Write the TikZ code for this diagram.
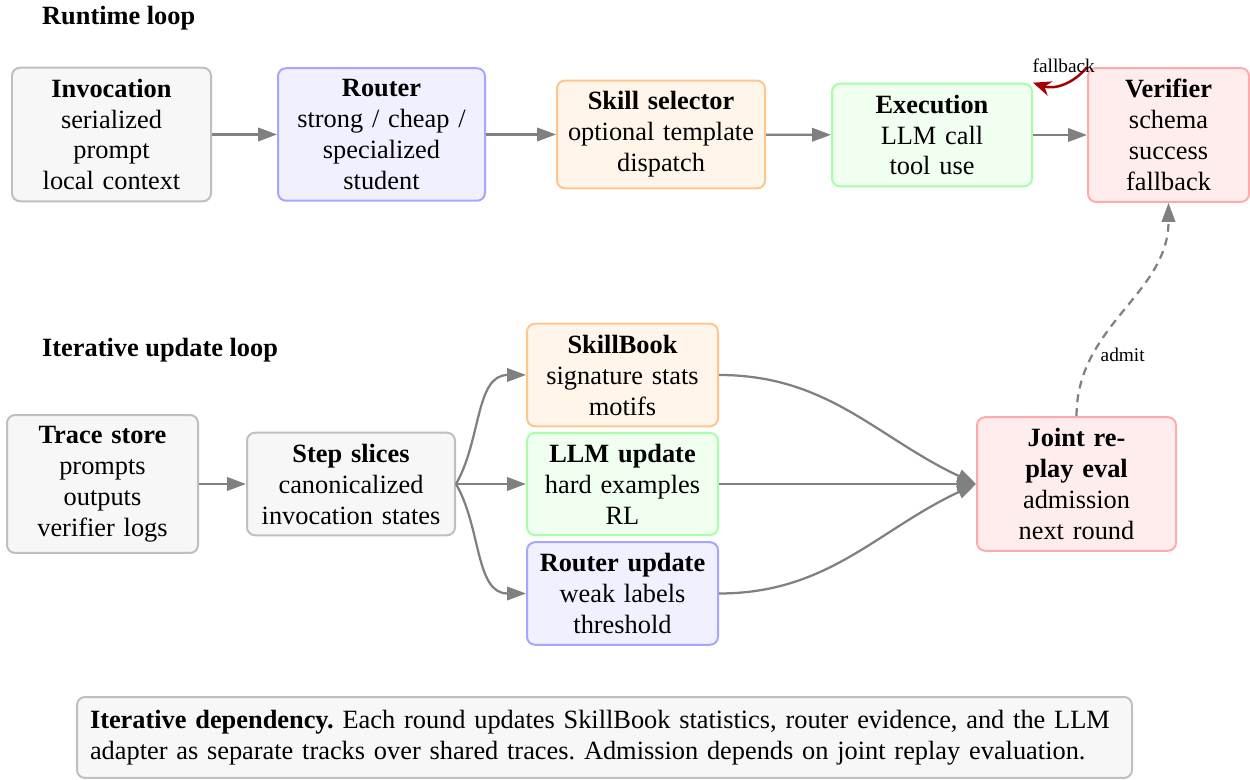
\documentclass[tikz,border=0pt]{standalone}
\usepackage{fontspec}
\setmainfont{Liberation Serif}
\usetikzlibrary{arrows.meta}
\begin{document}
\begin{tikzpicture}[
    box/.style={draw, rounded corners=0.16cm, line width=0.04cm, align=center,
      inner xsep=0.2cm, inner ysep=0.22cm, font=\fontsize{15}{17.64}\selectfont},
    graybox/.style={box, draw=black!25, fill=black!3},
    bluebox/.style={box, draw=blue!35, fill=blue!6},
    orangebox/.style={box, draw=orange!45, fill=orange!8},
    greenbox/.style={box, draw=green!35, fill=green!6},
    redbox/.style={box, draw=red!33, fill=red!7},
    flow/.style={draw=black!50, line width=0.045cm, -{Triangle[length=0.38cm,width=0.27cm]}},
    heading/.style={anchor=west, font=\fontsize{15}{17.64}\selectfont\bfseries},
    small/.style={font=\fontsize{11}{13}\selectfont}
  ]
  \useasboundingbox (0,0) rectangle (25,15.6);

  % Runtime loop
  \node[heading] (rt) at (0.72,15.24) {Runtime loop};
  \node[graybox, text width=3.58cm] (inv) at (2.23,12.91) {\textbf{Invocation}\\serialized\\prompt\\local context};
  \node[bluebox, text width=3.74cm] (router) at (7.63,12.91) {\textbf{Router}\\strong / cheap /\\specialized\\student};
  \node[orangebox, text width=3.76cm] (skill) at (13.22,12.91) {\textbf{Skill selector}\\optional template\\dispatch};
  \node[greenbox, text width=3.6cm] (exec) at (18.64,12.9) {\textbf{Execution}\\LLM call\\tool use};
  \node[redbox, text width=2.82cm] (verif) at (23.37,12.9) {\textbf{Verifier}\\schema\\success\\fallback};

  \draw[flow] (inv) -- (router);
  \draw[flow] (router) -- (skill);
  \draw[flow] (skill) -- (exec);
  \draw[flow] (exec) -- (verif);
  \draw[draw=red!65!black, line width=0.05cm, -{Stealth[length=0.36cm,width=0.3cm]}]
    (verif.north west) to[bend left=35] node[small, above=2pt, pos=0.48] {fallback} (exec.north east);

  % Iterative update loop
  \node[heading] (it) at (0.72,8.6) {Iterative update loop};
  \node[graybox, text width=3.42cm] (trace) at (2.05,5.92) {\textbf{Trace store}\\prompts\\outputs\\verifier logs};
  \node[graybox, text width=3.76cm] (slices) at (7.02,5.92) {\textbf{Step slices}\\canonicalized\\invocation states};
  \node[orangebox, text width=3.42cm] (book) at (12.45,8.1) {\textbf{SkillBook}\\signature stats\\motifs};
  \node[greenbox, text width=3.42cm] (llmup) at (12.45,5.92) {\textbf{LLM update}\\hard examples\\RL};
  \node[bluebox, text width=3.42cm] (routup) at (12.45,3.73) {\textbf{Router update}\\weak labels\\threshold};
  \node[redbox, text width=3.58cm] (joint) at (21.53,5.92) {\textbf{Joint re-}\\\textbf{play eval}\\admission\\next round};

  \draw[flow] (trace) -- (slices);
  \draw[flow] (slices.east) to[out=60,in=180] (book.west);
  \draw[flow] (slices.east) -- (llmup.west);
  \draw[flow] (slices.east) to[out=-60,in=180] (routup.west);
  \draw[flow] (book.east) to[out=0,in=155] (joint.west);
  \draw[flow] (llmup.east) -- (joint.west);
  \draw[flow] (routup.east) to[out=0,in=205] (joint.west);
  \draw[flow, dash pattern=on 0.16cm off 0.12cm]
    (joint.north) to[out=90,in=-90] node[small, right=1pt, pos=0.26] {admit} (verif.south);

  % Note
  \node[graybox, align=left, text width=20.58cm, inner xsep=0.26cm, inner ysep=0.26cm] (note) at (12.09,0.85)
    {\frenchspacing\textbf{Iterative dependency.} Each round updates SkillBook statistics, router evidence, and the LLM\\adapter as separate tracks over shared traces. Admission depends on joint replay evaluation.};
\end{tikzpicture}
\end{document}
